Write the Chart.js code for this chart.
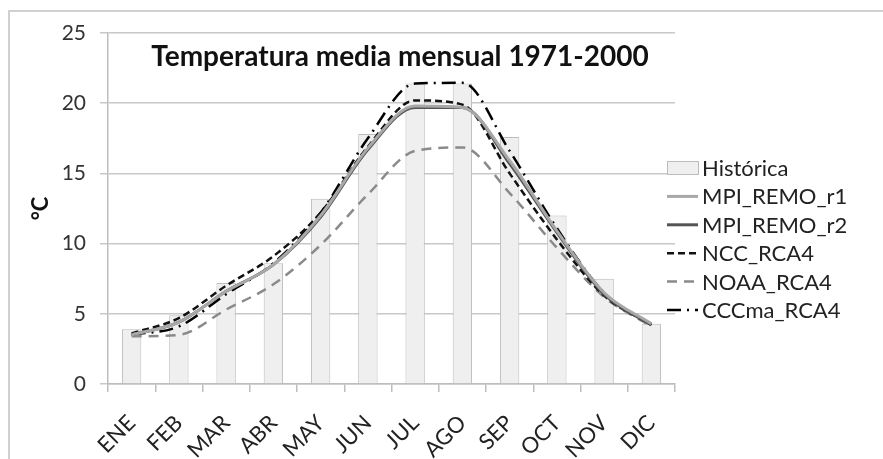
<!DOCTYPE html>
<html><head><meta charset="utf-8">
<script src="https://cdn.jsdelivr.net/npm/chart.js@4/dist/chart.umd.min.js"></script>
<style>
html,body{margin:0;padding:0;background:#fff;}
#wrap{position:relative;width:883px;height:459px;overflow:hidden;background:#fff;}
#frame{position:absolute;left:8px;top:10px;width:1000px;height:1000px;border-left:2px solid #d0d0d0;border-top:2px solid #d0d0d0;}
canvas{position:absolute;left:0;top:0;}
</style></head><body>
<div id="wrap"><div id="frame"></div><canvas id="c" width="883" height="459"></canvas></div>
<script>
const months = ["ENE","FEB","MAR","ABR","MAY","JUN","JUL","AGO","SEP","OCT","NOV","DIC"];
const historica = [3.9, 4.9, 7.2, 8.6, 13.2, 17.8, 21.4, 21.4, 17.6, 12.0, 7.5, 4.3];
const mpiRemoR1 = [3.5, 4.4, 6.6, 8.5, 12.0, 16.8, 19.8, 19.7, 15.9, 10.9, 6.5, 4.3];
const mpiRemoR2 = [3.5, 4.4, 6.6, 8.5, 11.9, 16.7, 19.7, 19.7, 15.7, 10.8, 6.4, 4.2];
const nccRca4   = [3.6, 4.7, 7.0, 9.1, 12.2, 16.9, 20.2, 19.9, 15.0, 10.3, 6.3, 4.2];
const noaaRca4  = [3.4, 3.5, 5.3, 7.1, 9.9, 13.5, 16.6, 16.85, 13.6, 9.7, 6.2, 4.1];
const cccmaRca4 = [3.5, 4.1, 6.4, 8.6, 12.2, 17.5, 21.4, 21.45, 16.6, 11.1, 6.5, 4.2];
const yTicks = [0, 5, 10, 15, 20, 25];
const chartTitle = "Temperatura media mensual 1971-2000";
const yTitle = "°C";

const FAM = 'Lato, "Open Sans", sans-serif';

function lineDs(label, data, color, width, dash) {
  return {type:'line', label, data, borderColor:color, backgroundColor:color, borderWidth:width,
    borderDash:dash, pointRadius:0, tension:0.3, cubicInterpolationMode:'monotone', fill:false, order:1, borderCapStyle:'butt'};
}

const customDraw = {
  id:'customDraw',
  afterDraw(chart) {
    const ctx = chart.ctx;
    ctx.save();
    ctx.fillStyle = '#111';
    ctx.font = 'bold 28px ' + FAM;
    ctx.textAlign = 'center';
    ctx.textBaseline = 'middle';
    ctx.fillText(chartTitle, 400, 57);
    // legend
    const x0 = 667, x1 = 698, tx = 702;
    let y = 168; const step = 28.4;
    ctx.font = '22px ' + FAM;
    ctx.textAlign = 'left';
    chart.data.datasets.forEach(ds => {
      if (ds.type === 'bar') {
        ctx.fillStyle = ds.backgroundColor;
        ctx.fillRect(x0, y - 7, x1 - x0, 14);
        ctx.strokeStyle = ds.borderColor; ctx.lineWidth = 1;
        ctx.strokeRect(x0 + 0.5, y - 6.5, x1 - x0, 13);
      } else {
        ctx.strokeStyle = ds.borderColor; ctx.lineWidth = ds.borderWidth;
        ctx.setLineDash(ds.borderDash || []);
        ctx.beginPath(); ctx.moveTo(x0, y); ctx.lineTo(x1, y); ctx.stroke();
        ctx.setLineDash([]);
      }
      ctx.fillStyle = '#222';
      ctx.fillText(ds.label, tx, y + 1);
      y += step;
    });
    ctx.restore();
  }
};

new Chart(document.getElementById('c'), {
  data: {
    labels: months,
    datasets: [
      {type:'bar', label:'Histórica', data:historica, backgroundColor:'#efefef', borderColor:'#bcbcbc',
       borderWidth:1, categoryPercentage:1, barPercentage:0.41, order:2},
      lineDs('MPI_REMO_r1', mpiRemoR1, '#a8a8a8', 3, []),
      lineDs('MPI_REMO_r2', mpiRemoR2, '#555555', 3, []),
      lineDs('NCC_RCA4', nccRca4, '#111111', 2.5, [7, 4]),
      lineDs('NOAA_RCA4', noaaRca4, '#8a8a8a', 2.5, [10, 7]),
      lineDs('CCCma_RCA4', cccmaRca4, '#000000', 2.5, [14, 6, 2, 6])
    ]
  },
  options: {
    responsive:false, animation:false,
    layout:{padding:{top:33, right:208, bottom:0, left:0}},
    plugins:{legend:{display:false}, title:{display:false}, tooltip:{enabled:false}},
    scales:{
      x:{type:'category', offset:true,
        grid:{offset:true, drawOnChartArea:false, drawTicks:true, tickLength:8, color:'#bdbdbd', lineWidth:1.5},
        border:{color:'#bdbdbd', width:1.5},
        ticks:{minRotation:45, maxRotation:45, autoSkip:false, font:{size:22, family:FAM}, color:'#222', padding:18},
        afterFit(s){ s.height = 75; }
      },
      y:{min:0, max:25,
        afterBuildTicks(s){ s.ticks = yTicks.map(v => ({value:v})); },
        grid:{color:'#c8c8c8', lineWidth:1.5, tickLength:8},
        border:{color:'#bdbdbd', width:1.5},
        ticks:{font:{size:21, family:FAM}, color:'#333', padding:14},
        title:{display:true, text:yTitle, font:{size:22, weight:'bold', family:FAM}, color:'#111', padding:{top:28}},
        afterFit(s){ s.width = 108; }
      }
    }
  },
  plugins:[customDraw]
});
</script>
</body></html>
